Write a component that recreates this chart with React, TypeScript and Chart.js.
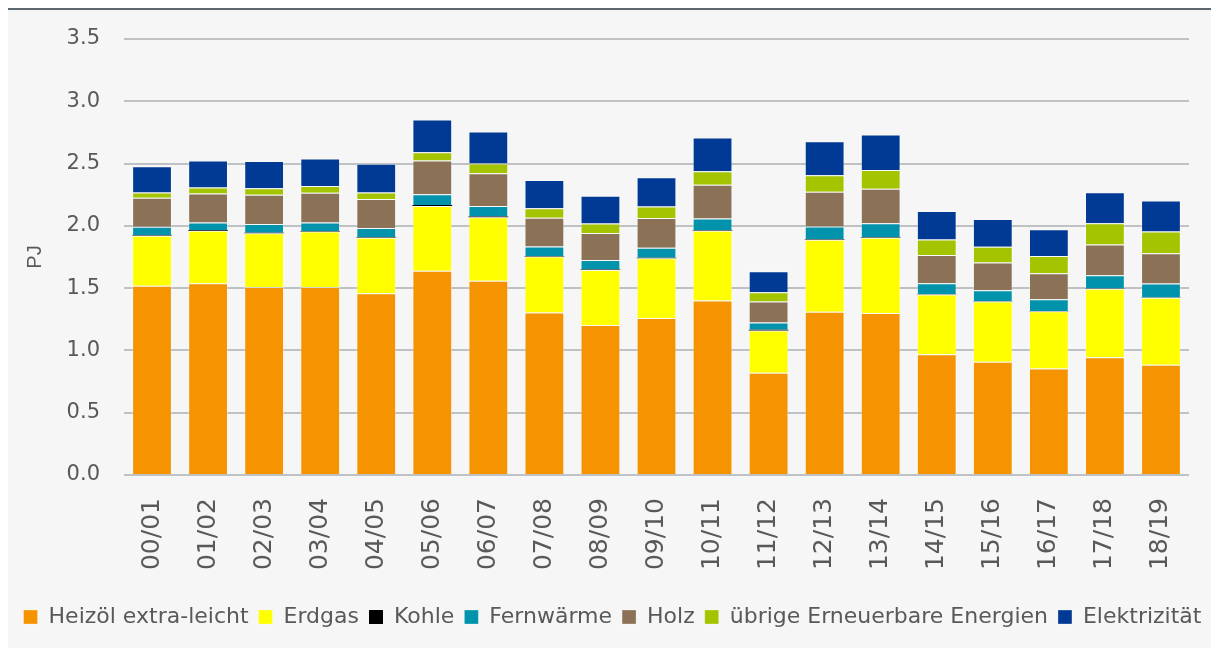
import React, { useEffect, useRef } from "react";
import { Chart, registerables } from "chart.js";

Chart.register(...registerables);

const categories = ["00/01", "01/02", "02/03", "03/04", "04/05", "05/06", "06/07", "07/08", "08/09", "09/10", "10/11", "11/12", "12/13", "13/14", "14/15", "15/16", "16/17", "17/18", "18/19"];

const heizoel = [1.52, 1.54, 1.51, 1.51, 1.46, 1.64, 1.56, 1.305, 1.205, 1.26, 1.40, 0.82, 1.31, 1.30, 0.97, 0.91, 0.855, 0.945, 0.885];
const erdgas = [0.40, 0.42, 0.43, 0.445, 0.445, 0.52, 0.51, 0.45, 0.44, 0.48, 0.56, 0.34, 0.578, 0.605, 0.478, 0.482, 0.46, 0.55, 0.538];
const kohle = [0.005, 0.006, 0.004, 0.004, 0.004, 0.008, 0.006, 0.004, 0.005, 0.004, 0.004, 0.005, 0.005, 0.003, 0.002, 0.002, 0.002, 0.002, 0.002];
const fernwaerme = [0.067, 0.061, 0.07, 0.068, 0.073, 0.086, 0.083, 0.076, 0.075, 0.081, 0.095, 0.059, 0.102, 0.112, 0.089, 0.089, 0.094, 0.106, 0.112];
const holz = [0.233, 0.233, 0.236, 0.238, 0.233, 0.27, 0.264, 0.231, 0.217, 0.239, 0.27, 0.169, 0.278, 0.278, 0.228, 0.222, 0.209, 0.248, 0.244];
const uebrige = [0.043, 0.048, 0.051, 0.054, 0.053, 0.067, 0.078, 0.075, 0.077, 0.091, 0.11, 0.075, 0.134, 0.15, 0.123, 0.128, 0.139, 0.169, 0.174];
const elektrizitaet = [0.211, 0.217, 0.219, 0.222, 0.231, 0.262, 0.257, 0.227, 0.223, 0.235, 0.27, 0.168, 0.273, 0.286, 0.23, 0.223, 0.214, 0.249, 0.248];

const yTicks = [0, 0.5, 1.0, 1.5, 2.0, 2.5, 3.0, 3.5];

const seriesNames = ["Heizöl extra-leicht", "Erdgas", "Kohle", "Fernwärme", "Holz", "übrige Erneuerbare Energien", "Elektrizität"];
const seriesColors = ["#f59300", "#ffff00", "#000000", "#0093ab", "#8b7155", "#a5c400", "#003a94"];

const TEXT = "#595959";

export default function App() {
  const ref = useRef<HTMLCanvasElement | null>(null);

  useEffect(() => {
    if (!ref.current) return;
    const seriesData = [heizoel, erdgas, kohle, fernwaerme, holz, uebrige, elektrizitaet];
    const chart = new Chart(ref.current, {
      type: "bar",
      data: {
        labels: categories,
        datasets: seriesData.map((d, i) => ({
          label: seriesNames[i],
          data: d,
          backgroundColor: seriesColors[i],
          borderColor: i === 2 ? seriesColors[i] : "rgba(255,255,255,0.3)",
          borderWidth: i === 2 ? 0 : 1,
          barPercentage: 0.71,
          categoryPercentage: 1,
        })),
      },
      options: {
        responsive: false,
        animation: false,
        layout: { padding: { top: 29, right: 0, left: 0, bottom: 10 } },
        scales: {
          x: {
            stacked: true,
            grid: { display: false },
            border: { display: false },
            ticks: {
              minRotation: 90,
              maxRotation: 90,
              padding: 15,
              color: TEXT,
              font: { family: "DejaVu Sans", size: 25 },
            },
            afterFit: (s: any) => {
              s.height = 121;
            },
          },
          y: {
            stacked: true,
            min: 0,
            max: 3.5,
            afterBuildTicks: (s: any) => {
              s.ticks = yTicks.map((v) => ({ value: v }));
            },
            grid: { color: "#bfc2c4", lineWidth: 2, drawTicks: false },
            border: { display: false },
            ticks: {
              padding: 24,
              color: TEXT,
              font: { family: "DejaVu Sans", size: 21 },
              callback: (v: any) => Number(v).toFixed(1),
            },
            title: {
              display: true,
              text: "PJ",
              color: TEXT,
              font: { family: "Liberation Sans", size: 20 },
              padding: { top: 15, bottom: 0 },
            },
            afterFit: (s: any) => {
              s.width = 116;
              s.paddingTop = 0;
              s.paddingBottom = 0;
            },
          },
          yRightSpacer: {
            position: "right",
            display: true,
            grid: { display: false, drawTicks: false },
            border: { display: false },
            ticks: { display: false },
            afterFit: (s: any) => {
              s.width = 28;
            },
          },
        },
        plugins: {
          legend: {
            position: "bottom",
            labels: {
              boxWidth: 14,
              boxHeight: 14,
              padding: 10,
              color: TEXT,
              font: { family: "DejaVu Sans", size: 22 },
            },
          },
          tooltip: { enabled: false },
        },
      },
    });
    return () => chart.destroy();
  }, []);

  return (
    <div
      style={{
        width: 1209,
        height: 638,
        background: "#f6f6f6",
        borderTop: "2px solid #5c676f",
      }}
    >
      <canvas ref={ref} width={1209} height={638} style={{ display: "block" }} />
    </div>
  );
}
